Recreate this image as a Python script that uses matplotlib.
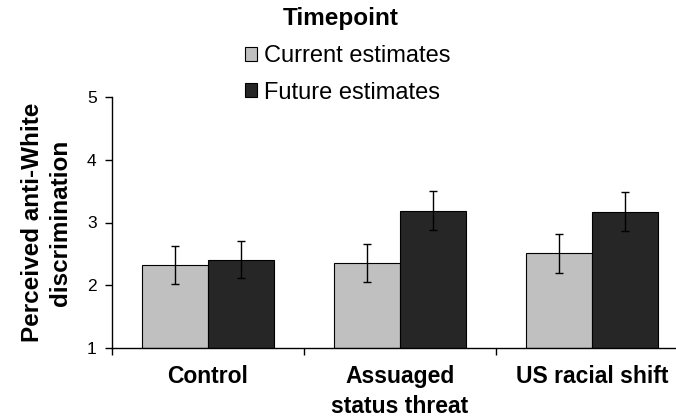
import numpy as np
import matplotlib
matplotlib.use('Agg')
import matplotlib.pyplot as plt
from matplotlib.patches import Patch

plt.rcParams['font.family'] = ['Liberation Sans', 'DejaVu Sans']

# 数据
categories = ['Control', 'Assuaged\nstatus threat', 'US racial shift']
current_means = [2.32, 2.35, 2.51]
current_err = [0.30, 0.30, 0.31]
future_means = [2.41, 3.19, 3.17]
future_err = [0.30, 0.31, 0.31]
series_names = ['Current estimates', 'Future estimates']
yticks = [1, 2, 3, 4, 5]

fig = plt.figure(figsize=(6.76, 4.17), dpi=100)
ax = fig.add_axes([112 / 676, 69 / 417, 564 / 676, 251 / 417])

x = np.arange(len(categories))
w = 0.345
err_kw = dict(ecolor='black', elinewidth=1.0, capsize=3, capthick=1.0)
ax.bar(x - w / 2, np.array(current_means) - 1, w, bottom=1, color='#c0c0c0',
       edgecolor='black', linewidth=0.8, yerr=current_err, error_kw=err_kw)
ax.bar(x + w / 2, np.array(future_means) - 1, w, bottom=1, color='#262626',
       edgecolor='black', linewidth=0.8, yerr=future_err, error_kw=err_kw)

ax.set_ylim(1, 5)
ax.set_xlim(-0.5, 2.4375)
ax.set_yticks(yticks)
ax.set_yticklabels([str(t) for t in yticks], fontsize=12.5)
ax.set_xticks([-0.5, 0.5, 1.5])
ax.set_xticklabels([])
ax.set_xticks(x, minor=True)
ax.set_xticklabels(categories, minor=True, fontsize=16.5, fontweight='bold')
ax.tick_params(axis='x', which='minor', length=0, pad=12)
ax.tick_params(axis='x', which='major', length=5, direction='out', width=1)
ax.tick_params(axis='y', length=5, direction='out', width=1, pad=6)
for s in ['top', 'right']:
    ax.spines[s].set_visible(False)
ax.spines['left'].set_linewidth(1)
ax.spines['bottom'].set_linewidth(1)
for lab in ax.get_xticklabels(minor=True):
    lab.set_linespacing(1.4)

ax.set_ylabel('Perceived anti-White\ndiscrimination', fontsize=17.5,
              fontweight='bold', labelpad=11, linespacing=1.28)

# 图例
fig.text(341 / 676, 1 - 18 / 417, 'Timepoint', ha='center', va='center',
         fontsize=17.5, fontweight='bold')
handles = [Patch(facecolor='#c0c0c0', edgecolor='black', linewidth=0.8),
           Patch(facecolor='#262626', edgecolor='black', linewidth=0.8)]
leg = fig.legend(handles, series_names, loc='center',
                 bbox_to_anchor=(0.515, 1 - 74.5 / 417), frameon=False, fontsize=17,
                 handlelength=0.5, handleheight=0.5, handletextpad=0.3,
                 labelspacing=0.6, borderpad=0)

plt.savefig('out.png', dpi=100, facecolor='white')
